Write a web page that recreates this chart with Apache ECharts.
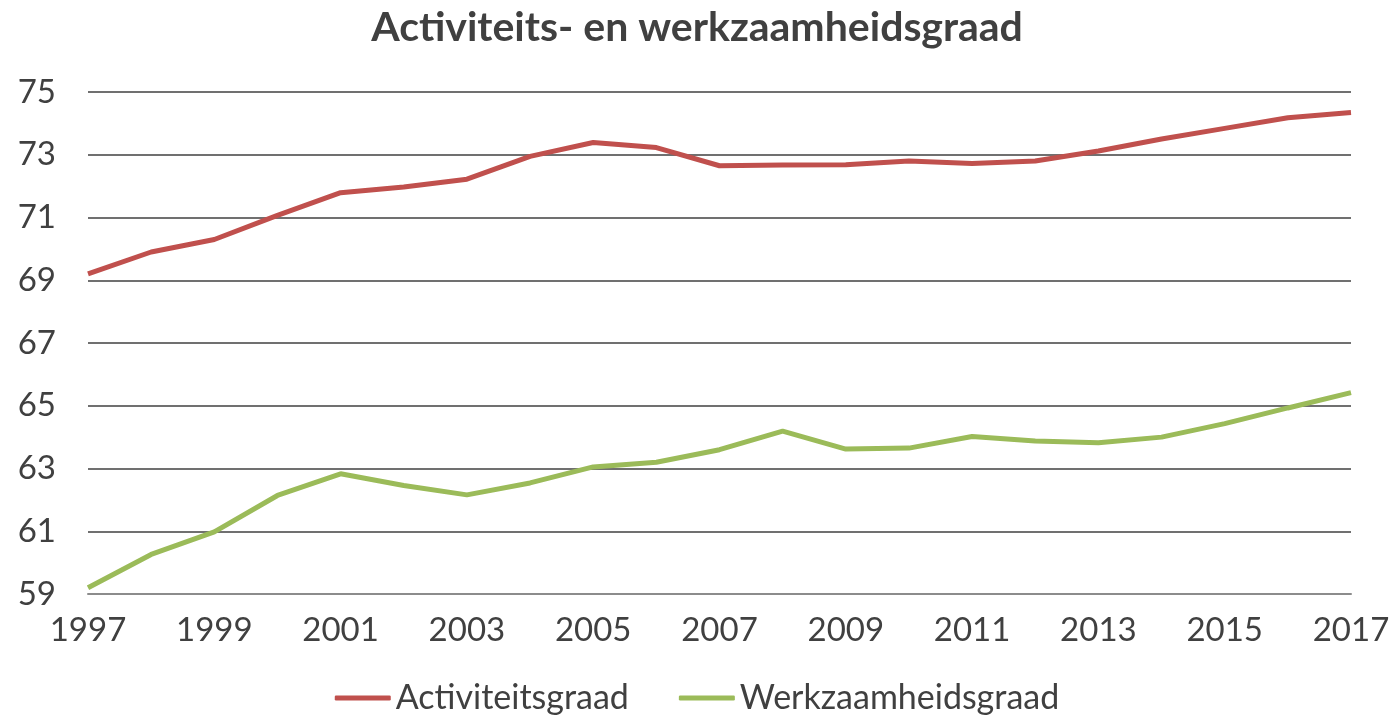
<!DOCTYPE html>
<html style="height: 100%">
<head>
<meta charset="utf-8">
<script src="https://cdn.jsdelivr.net/npm/echarts@6/dist/echarts.min.js"></script>
<style>
  * { margin: 0; padding: 0; }
</style>
</head>
<body style="height: 100%; margin: 0; background: #fff">
<div id="container" style="width: 1394px; height: 720px"></div>
<script>
var years = ['1997','1998','1999','2000','2001','2002','2003','2004','2005','2006','2007',
             '2008','2009','2010','2011','2012','2013','2014','2015','2016','2017'];
var activiteit = [69.2, 69.9, 70.3, 71.07, 71.79, 71.97, 72.22, 72.95, 73.39, 73.23, 72.65,
                  72.67, 72.68, 72.8, 72.72, 72.8, 73.12, 73.5, 73.84, 74.18, 74.35];
var werkzaamheid = [59.2, 60.26, 60.98, 62.14, 62.83, 62.46, 62.16, 62.54, 63.05, 63.2, 63.6,
                    64.19, 63.62, 63.65, 64.02, 63.88, 63.82, 64.0, 64.43, 64.93, 65.42];

var font = 'Lato';
var chart = echarts.init(document.getElementById('container'));
var option = {
  animation: false,
  title: {
    text: 'Activiteits- en werkzaamheidsgraad',
    left: 'center',
    top: 2,
    textStyle: { fontFamily: font, fontSize: 41, fontWeight: 'bold', color: '#404040' }
  },
  legend: {
    bottom: 0,
    left: 'center',
    itemWidth: 56,
    itemHeight: 5,
    itemGap: 50,
    icon: 'roundRect',
    textStyle: { fontFamily: font, fontSize: 34, color: '#404040' },
    data: ['Activiteitsgraad', 'Werkzaamheidsgraad']
  },
  grid: { left: 88, right: 43, top: 92, bottom: 126, containLabel: false },
  xAxis: {
    type: 'category',
    boundaryGap: false,
    data: years,
    axisLine: { lineStyle: { color: '#8c8c8c', width: 2 } },
    axisTick: { show: false },
    axisLabel: { interval: 1, fontFamily: font, fontSize: 33, color: '#404040', margin: 20 }
  },
  yAxis: {
    type: 'value',
    min: 59,
    max: 75,
    interval: 2,
    axisLine: { show: false },
    axisTick: { show: false },
    axisLabel: { fontFamily: font, fontSize: 33, color: '#404040', margin: 32 },
    splitLine: { lineStyle: { color: '#404040', width: 1.5 } }
  },
  series: [
    {
      name: 'Activiteitsgraad',
      type: 'line',
      data: activiteit,
      symbol: 'none',
      color: '#c0504d',
      lineStyle: { width: 5, color: '#c0504d' }
    },
    {
      name: 'Werkzaamheidsgraad',
      type: 'line',
      data: werkzaamheid,
      symbol: 'none',
      color: '#9bbb59',
      lineStyle: { width: 5, color: '#9bbb59' }
    }
  ]
};
chart.setOption(option);
</script>
</body>
</html>
